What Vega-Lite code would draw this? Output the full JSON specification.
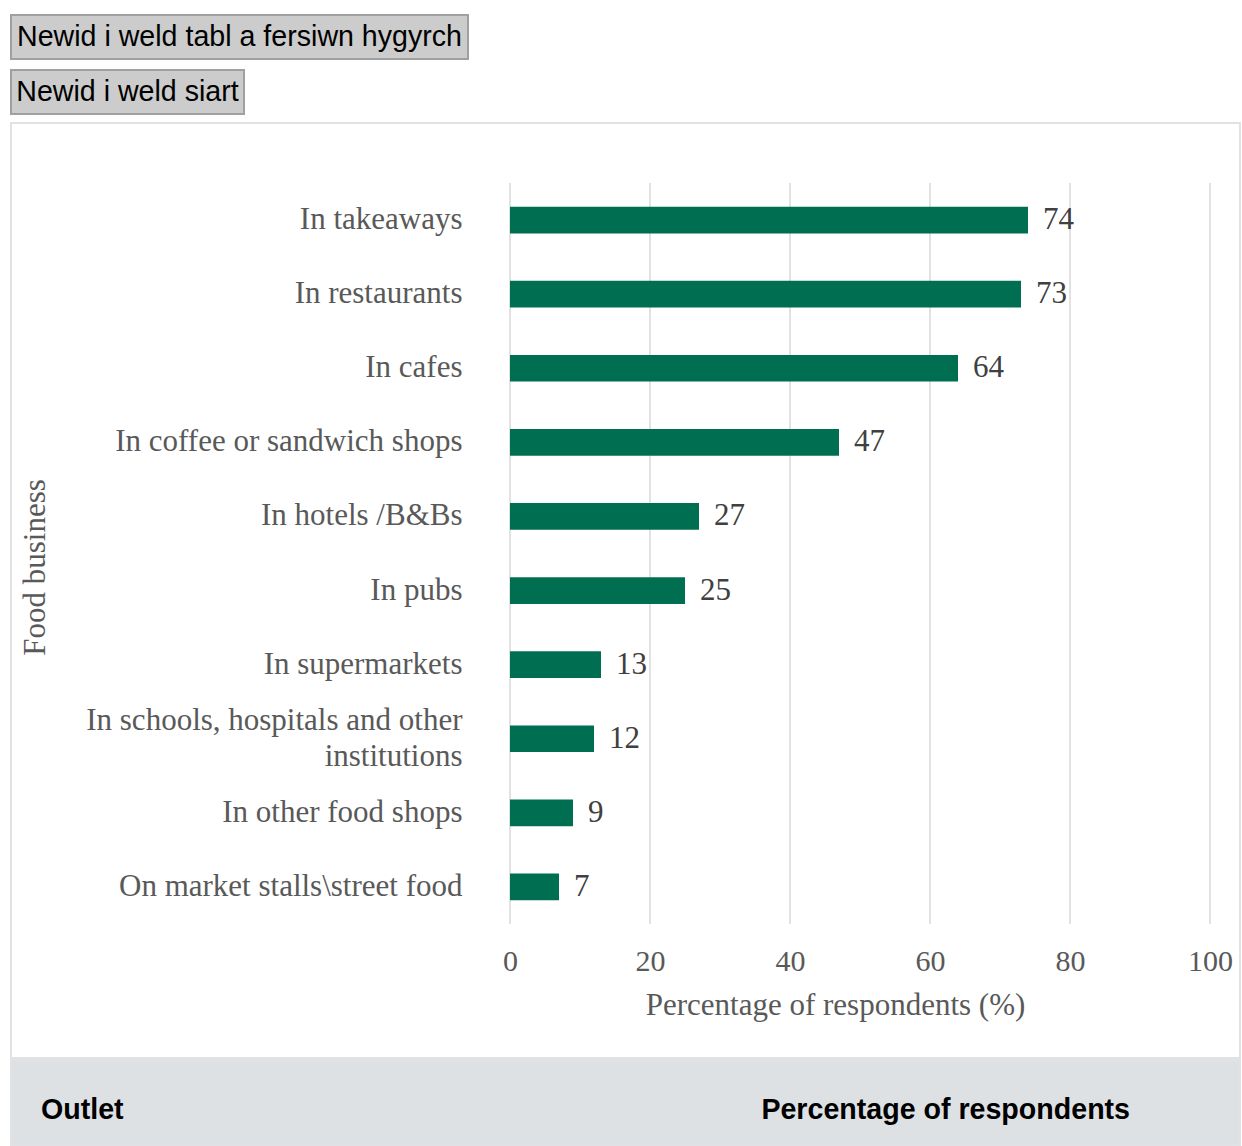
{
  "$schema": "https://vega.github.io/schema/vega-lite/v6.json",
  "padding": {"left": 10, "top": 14, "right": 0, "bottom": 0},
  "background": "white",
  "config": {"view": {"stroke": null}, "font": "Liberation Serif"},
  "spacing": 7,
  "vconcat": [
    {
      "spacing": 9,
      "vconcat": [
        {
          "width": 457,
          "height": 44,
          "view": {"fill": "#cccccc", "stroke": "#a0a0a0", "strokeWidth": 2},
          "data": {"values": [{"label": "Newid i weld tabl a fersiwn hygyrch"}]},
          "mark": {"type": "text", "font": "Liberation Sans", "fontSize": 28.6, "color": "#000000", "align": "center", "baseline": "middle"},
          "encoding": {"text": {"field": "label"}}
        },
        {
          "width": 233,
          "height": 44,
          "view": {"fill": "#cccccc", "stroke": "#a0a0a0", "strokeWidth": 2},
          "data": {"values": [{"label": "Newid i weld siart"}]},
          "mark": {"type": "text", "font": "Liberation Sans", "fontSize": 28.6, "color": "#000000", "align": "center", "baseline": "middle"},
          "encoding": {"text": {"field": "label"}}
        }
      ]
    },
    {
      "spacing": 0,
      "vconcat": [
        {
          "width": 1229,
          "height": 935,
          "view": {"stroke": "#e2e2e2", "strokeWidth": 2, "fill": "white"},
          "encoding": {
            "x": {
              "field": "pct",
              "type": "quantitative",
              "scale": {"domain": [0, 100], "nice": false, "range": [499, 1199]},
              "axis": {
                "title": "Percentage of respondents (%)",
                "titleFont": "Liberation Serif",
                "titleFontSize": 31,
                "titleFontWeight": "normal",
                "titleColor": "#595959",
                "titlePadding": 14,
                "titleX": 824,
                "offset": -134,
                "values": [0, 20, 40, 60, 80, 100],
                "labelFlush": false,
                "labelFont": "Liberation Serif",
                "labelFontSize": 30,
                "labelColor": "#595959",
                "labelPadding": 22,
                "grid": false,
                "domain": false,
                "ticks": false
              }
            }
          },
          "layer": [
            {
              "data": {"values": [{"pct": 0}, {"pct": 20}, {"pct": 40}, {"pct": 60}, {"pct": 80}, {"pct": 100}]},
              "mark": {"type": "rule", "color": "#d9d9d9", "strokeWidth": 1.5},
              "encoding": {
                "y": {"datum": 0, "type": "quantitative", "scale": {"domain": [0, 1], "range": [60, 801]}, "axis": null},
                "y2": {"datum": 1}
              }
            },
            {
              "data": {
                "values": [
                  {"outlet": "In takeaways", "pct": 74},
                  {"outlet": "In restaurants", "pct": 73},
                  {"outlet": "In cafes", "pct": 64},
                  {"outlet": "In coffee or sandwich shops", "pct": 47},
                  {"outlet": "In hotels /B&Bs", "pct": 27},
                  {"outlet": "In pubs", "pct": 25},
                  {"outlet": "In supermarkets", "pct": 13},
                  {"outlet": "In schools, hospitals and other institutions", "pct": 12},
                  {"outlet": "In other food shops", "pct": 9},
                  {"outlet": "On market stalls\\street food", "pct": 7}
                ]
              },
              "encoding": {
                "y": {
                  "field": "outlet",
                  "type": "nominal",
                  "sort": null,
                  "scale": {"paddingInner": 0.64, "paddingOuter": 0.32, "range": [60, 801]},
                  "axis": {
                    "title": "Food business",
                    "titleFont": "Liberation Serif",
                    "titleFontSize": 31,
                    "titleFontWeight": "normal",
                    "titleColor": "#595959",
                    "titlePadding": 34,
                    "titleY": 444,
                    "offset": -499,
                    "maxExtent": 1000,
                    "labelFont": "Liberation Serif",
                    "labelFontSize": 31,
                    "labelColor": "#595959",
                    "labelPadding": 48,
                    "labelLimit": 600,
                    "labelLineHeight": 36,
                    "labelOffset": {"condition": {"test": "datum.value == 'In schools, hospitals and other institutions'", "value": -18}, "value": 0},
                    "labelExpr": "datum.value == 'In schools, hospitals and other institutions' ? ['In schools, hospitals and other', 'institutions'] : datum.value",
                    "domain": false,
                    "ticks": false,
                    "grid": false
                  }
                }
              },
              "layer": [
                {"mark": {"type": "bar", "color": "#006f51"}},
                {
                  "mark": {"type": "text", "align": "left", "baseline": "middle", "dx": 15, "font": "Liberation Serif", "fontSize": 31, "color": "#404040"},
                  "encoding": {"text": {"field": "pct", "type": "quantitative"}}
                }
              ]
            }
          ],
          "resolve": {"scale": {"y": "independent"}, "axis": {"y": "independent"}}
        },
        {
          "width": 1229,
          "height": 86,
          "view": {"fill": "#dee1e4", "stroke": "#e2e2e2", "strokeWidth": 2},
          "data": {"values": [{"column": "Outlet"}, {"column": "Percentage of respondents"}]},
          "mark": {"type": "text", "align": "left", "baseline": "middle", "dy": 7, "font": "Liberation Sans", "fontWeight": "bold", "fontSize": 28.6, "color": "#000000"},
          "encoding": {
            "x": {
              "field": "column",
              "type": "nominal",
              "sort": null,
              "bandPosition": 0,
              "scale": {"type": "band", "paddingInner": 0.37725, "paddingOuter": 0.0416},
              "axis": null
            },
            "text": {"field": "column"}
          }
        }
      ]
    }
  ]
}
